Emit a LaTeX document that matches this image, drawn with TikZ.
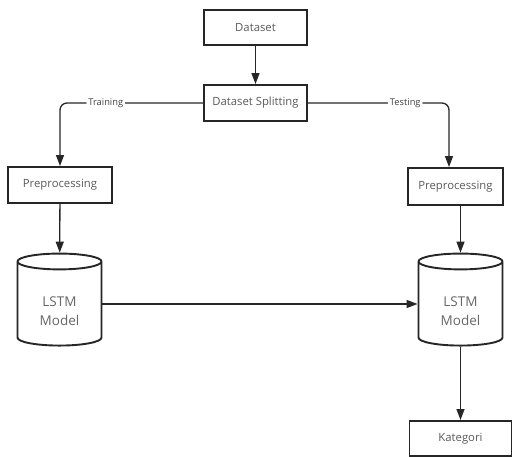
\documentclass[tikz,border=0pt]{standalone}
\usepackage{fontspec}
\setmainfont{Open Sans}
\usetikzlibrary{arrows.meta,shapes.geometric}

\begin{document}
\begin{tikzpicture}[
    x=1pt, y=-1pt,
    box/.style={draw=black!85, line width=1.9pt, rectangle, inner sep=0pt,
        text=black!65, font=\fontsize{11.3}{13}\selectfont},
    cyl/.style={draw=black!85, line width=1.9pt, cylinder, shape border rotate=90,
        aspect=0.4, inner sep=0pt, minimum width=84pt, minimum height=92pt,
        text=black!60, align=center, font=\fontsize{13.5}{19}\selectfont},
    arr/.style={draw=black!85, line width=1.3pt, -{Triangle[width=8pt,length=11pt]}},
    lbl/.style={fill=white, text=black!75, inner sep=2pt, font=\fontsize{9.3}{11}\selectfont}
]
\useasboundingbox (0,0) rectangle (512,457);

\node[box, minimum width=103pt, minimum height=35pt] (data) at (255.5,27.5) {Dataset};
\node[box, minimum width=103pt, minimum height=36pt] (split) at (255.5,103) {Dataset Splitting};
\node[box, minimum width=104pt, minimum height=36pt] (prepL) at (60,185) {Preprocessing};
\node[box, minimum width=95pt, minimum height=37pt] (prepR) at (455.5,186.5) {Preprocessing};
\node[cyl] (lstmL) at (59.5,304) {\\[5pt]LSTM\\Model};
\node[cyl] (lstmR) at (460.5,304) {\\[5pt]LSTM\\Model};
\node[box, minimum width=102pt, minimum height=35pt] (kat) at (460.5,438.5) {Kategori};

\draw[arr] (data) -- (split);
\draw[arr, rounded corners=7pt] (split.west) -| node[lbl, pos=0.34] {Training} (prepL.north);
\draw[arr, rounded corners=7pt] (split.east) -| node[lbl, pos=0.345] {Testing} ([xshift=-6.5pt]prepR.north);
\draw[arr] (prepL) -- (lstmL);
\draw[arr] (prepR.south -| lstmR.north) -- (lstmR.north);
\draw[arr] (lstmL.east) -- (lstmR.west);
\draw[arr] (lstmR.south) -- (kat.north);

\end{tikzpicture}
\end{document}
